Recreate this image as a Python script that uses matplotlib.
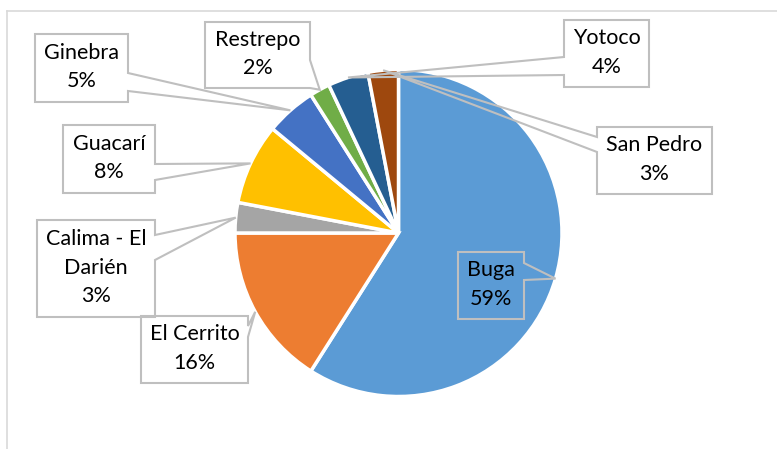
import numpy as np
import matplotlib
matplotlib.use("Agg")
import matplotlib.pyplot as plt
from matplotlib.patches import Polygon

# ---- data ----
municipios = ["Buga", "El Cerrito", "Calima - El\nDarién", "Guacarí", "Ginebra",
              "Restrepo", "Yotoco", "San Pedro"]
porcentajes = [59, 16, 3, 8, 5, 2, 4, 3]
colores = ["#5B9BD5", "#ED7D31", "#A5A5A5", "#FFC000", "#4472C4",
           "#70AD47", "#255E91", "#9E480E"]

# ---- layout (pixel coords, origin top-left) ----
W, H = 777, 449
CX, CY, R = 398.5, 233, 163.5
# box (x0, y0, x1, y1), pointer side, pointer base (b0, b1)
callouts = [
    ((458, 252, 524, 319), "right", (263, 280)),   # Buga
    ((141, 316, 248, 383), "right", (326, 337)),   # El Cerrito
    ((37, 220, 155, 317), "right", (235, 260)),    # Calima
    ((63, 125, 155, 193), "right", (164, 180)),    # Guacarí
    ((35, 34, 128, 102), "right", (73, 91)),       # Ginebra
    ((205, 22, 310, 88), "right", (60, 88)),       # Restrepo
    ((564, 20, 649, 87), "left", (57, 75)),        # Yotoco
    ((597, 127, 712, 194), "left", (137, 152)),    # San Pedro
]

fig = plt.figure(figsize=(W / 100, H / 100), dpi=100)
ax = fig.add_axes([0, 0, 1, 1])

ax.pie(porcentajes, colors=colores, startangle=90, counterclock=False,
       center=(CX, H - CY), radius=R,
       wedgeprops=dict(edgecolor="white", linewidth=2.5))
ax.set_xlim(0, W)
ax.set_ylim(0, H)
ax.set_aspect("equal")
ax.axis("off")

# chart frame
ax.plot([7, 7], [0, H - 11], color="#D9D9D9", lw=1.2)
ax.plot([7, W], [H - 11, H - 11], color="#D9D9D9", lw=1.2)

total = sum(porcentajes)
cum = 0
for name, v, (box, side, base) in zip(municipios, porcentajes, callouts):
    theta = np.deg2rad(90 - 360 * (cum + v / 2) / total)
    cum += v
    ax_, ay_ = CX + R * np.cos(theta), (H - CY) + R * np.sin(theta)
    x0, y0, x1, y1 = box
    b0, b1 = base
    if side == "right":
        pts = [(x0, y0), (x1, y0), (x1, b0), None, (x1, b1), (x1, y1), (x0, y1)]
    else:
        pts = [(x0, y0), (x1, y0), (x1, y1), (x0, y1), (x0, b1), None, (x0, b0)]
    verts = []
    for p in pts:
        if p is None:
            verts.append((ax_, ay_))
        else:
            verts.append((p[0], H - p[1]))
    ax.add_patch(Polygon(verts, closed=True, fill=False, edgecolor="#BFBFBF", lw=1.5))
    ax.text((x0 + x1) / 2, H - (y0 + y1) / 2 + 1, f"{name}\n{v}%", ha="center", va="center",
            fontsize=15.5, family="Lato", color="#000000", linespacing=1.55)

fig.savefig("out.png", dpi=100)
